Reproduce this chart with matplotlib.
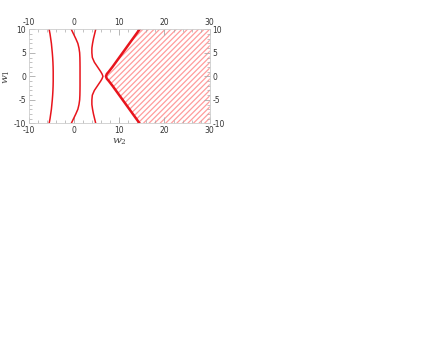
import matplotlib.pyplot as plt
from matplotlib.ticker import MultipleLocator

# level curves: w1 values and matching w2 values
w1_pts = [-10, -9, -8, -7, -6, -5, -4, -3, -2, -1, -0.5, 0,
          0.5, 1, 2, 3, 4, 5, 6, 7, 8, 9, 10]

curve_a = [-5.5, -5.3, -5.15, -5.0, -4.9, -4.8, -4.72, -4.66, -4.62, -4.6, -4.6, -4.6,
           -4.6, -4.6, -4.62, -4.66, -4.72, -4.8, -4.9, -5.0, -5.15, -5.3, -5.5]
curve_b = [-0.6, -0.1, 0.4, 0.85, 1.1, 1.25, 1.3, 1.32, 1.33, 1.33, 1.33, 1.33,
           1.33, 1.33, 1.33, 1.32, 1.3, 1.25, 1.1, 0.85, 0.4, -0.1, -0.6]
curve_c = [4.8, 4.55, 4.3, 4.1, 3.95, 3.95, 4.05, 4.5, 5.2, 5.9, 6.2, 6.4,
           6.2, 5.9, 5.2, 4.5, 4.05, 3.95, 3.95, 4.1, 4.3, 4.55, 4.8]
curve_d = [14.5, 13.75, 13.0, 12.25, 11.5, 10.75, 10.0, 9.25, 8.5, 7.7, 7.25, 7.05,
           7.25, 7.7, 8.5, 9.25, 10.0, 10.75, 11.5, 12.25, 13.0, 13.75, 14.5]

plt.rcParams["font.family"] = "DejaVu Sans"
plt.rcParams["mathtext.fontset"] = "dejavuserif"
plt.rcParams["axes.unicode_minus"] = False
plt.rcParams["hatch.linewidth"] = 0.9

fig = plt.figure(figsize=(4.36, 3.37), dpi=100)
ax = fig.add_axes([0.066, 0.634, 0.415, 0.279])

ax.fill_betweenx(w1_pts, curve_d, 30, facecolor="none", edgecolor="#ff9c9c",
                 hatch="//////", linewidth=0)

red = "#e8141c"
ax.plot(curve_a, w1_pts, color=red, lw=1.1)
ax.plot(curve_b, w1_pts, color=red, lw=1.1)
ax.plot(curve_c, w1_pts, color=red, lw=1.1)
ax.plot(curve_d, w1_pts, color=red, lw=1.8)

ax.set_xlim(-10, 30)
ax.set_ylim(-10, 10)
ax.xaxis.set_major_locator(MultipleLocator(10))
ax.xaxis.set_minor_locator(MultipleLocator(2))
ax.yaxis.set_major_locator(MultipleLocator(5))
ax.yaxis.set_minor_locator(MultipleLocator(1))
ax.tick_params(which="both", direction="in", color="#aaaaaa", labelsize=5.5,
               labelcolor="#333333", top=True, right=True,
               labeltop=True, labelright=True, pad=2)
ax.tick_params(which="major", length=4, width=0.6)
ax.tick_params(which="minor", length=2, width=0.5)
for s in ax.spines.values():
    s.set_color("#cccccc")
    s.set_linewidth(0.6)

ax.set_xlabel("$w_2$", fontsize=7.5, color="#444444")
ax.set_ylabel("$w_1$", fontsize=7.5, color="#444444")
ax.xaxis.set_label_coords(0.5, -0.14)
ax.yaxis.set_label_coords(-0.09, 0.5)

fig.savefig("out.png", dpi=100)
